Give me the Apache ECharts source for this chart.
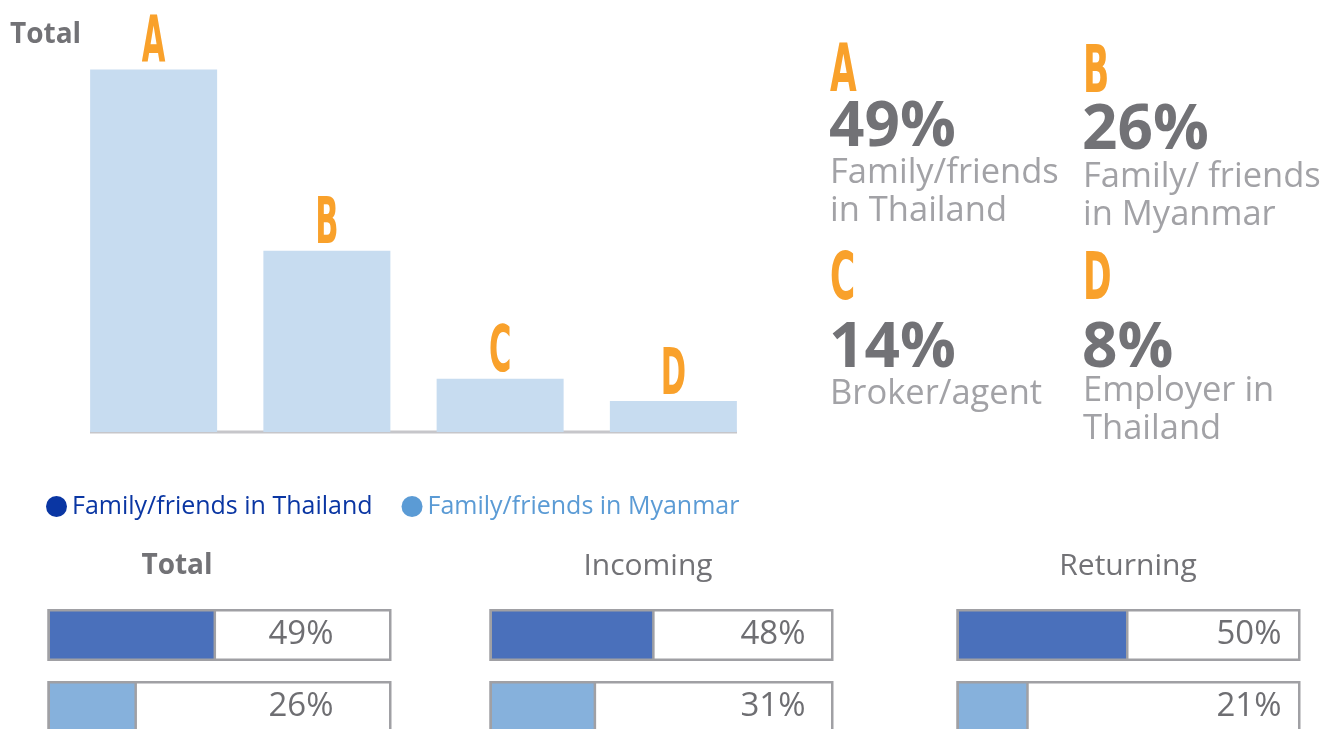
<!DOCTYPE html>
<html>
<head>
<meta charset="utf-8">
<script src="https://cdn.jsdelivr.net/npm/echarts@6/dist/echarts.min.js"></script>
<style>
  html, body { margin: 0; padding: 0; background: #fff; }
  #main { width: 1327px; height: 729px; }
</style>
</head>
<body>
<div id="main"></div>
<script>
// bar chart (top left)
var barLetters = ['A', 'B', 'C', 'D'];
var barHeights = [49, 24.5, 7.2, 4.2];

// key figures (top right)
var sharePct = [49, 26, 14, 8];
var shareText = ['Family/friends\nin Thailand', 'Family/ friends\nin Myanmar', 'Broker/agent', 'Employer in\nThailand'];

// progress bars (bottom)
var groupNames = ['Total', 'Incoming', 'Returning'];
var thailandPct = [49, 48, 50];
var myanmarPct = [26, 31, 21];
var seriesNames = ['Family/friends in Thailand', 'Family/friends in Myanmar'];

var orange = '#f9a12b';
var grey = '#727276';
var lightGrey = '#a2a2a6';
var letterFont = 'DejaVu Sans Condensed, DejaVu Sans, sans-serif';
var textFont = 'Open Sans, Noto Sans, sans-serif';

var chart = echarts.init(document.getElementById('main'));

var grids = [{ left: 67, width: 693, top: 62, height: 370 }];
var xAxes = [{
    type: 'category', gridIndex: 0, data: barLetters,
    axisLine: { show: false }, axisTick: { show: false }, axisLabel: { show: false }
}];
var yAxes = [{
    type: 'value', gridIndex: 0, min: 0, max: 50,
    show: false, splitLine: { show: false }
}];
var series = [
    {
        type: 'bar', xAxisIndex: 0, yAxisIndex: 0,
        data: barHeights, barWidth: 127,
        itemStyle: { color: '#c7dcf0' },
        silent: true
    },
    {
        type: 'custom', xAxisIndex: 0, yAxisIndex: 0,
        data: barHeights.map(function (v, i) { return [i, v]; }),
        renderItem: function (params, api) {
            var p = api.coord([api.value(0), api.value(1)]);
            return {
                type: 'text', x: p[0], y: p[1] - 24, scaleX: 0.53,
                style: {
                    text: barLetters[params.dataIndex], x: 0, y: 0,
                    align: 'center', verticalAlign: 'middle',
                    fontFamily: letterFont, fontSize: 64, fontWeight: 'bold', fill: orange
                }
            };
        }
    }
];

// one small grid per group, rows sit on the grid edges
var groupLeft = [47.5, 489.5, 956.5];
var labelDist = [58, 28, 19];
groupNames.forEach(function (g, k) {
    var idx = k + 1;
    grids.push({ left: groupLeft[k], width: 344, top: 635, height: 72 });
    xAxes.push({ type: 'value', gridIndex: idx, min: 0, max: 100, show: false });
    yAxes.push({
        type: 'category', gridIndex: idx, inverse: true, boundaryGap: false, data: ['th', 'mm'],
        axisLine: { show: false }, axisTick: { show: false }, axisLabel: { show: false }
    });
    var rowVals = [thailandPct[k], myanmarPct[k]];
    series.push({
        type: 'bar', xAxisIndex: idx, yAxisIndex: idx, clip: false,
        data: [100, 100], barWidth: 52, barGap: '-100%', silent: true,
        itemStyle: { color: '#fff', borderColor: '#a0a0a4', borderWidth: 2.5 },
        label: {
            show: true, position: 'insideRight', distance: labelDist[k],
            formatter: function (p) { return rowVals[p.dataIndex] + '%'; },
            fontFamily: textFont, fontSize: 33, color: '#6e6e72'
        }
    });
    series.push({
        name: seriesNames[0], type: 'bar', xAxisIndex: idx, yAxisIndex: idx, clip: false,
        data: [thailandPct[k], '-'], barWidth: 52, barGap: '-100%', silent: true,
        itemStyle: { color: '#4a70bb', borderColor: '#a0a0a4', borderWidth: 2.5 }
    });
    series.push({
        name: seriesNames[1], type: 'bar', xAxisIndex: idx, yAxisIndex: idx, clip: false,
        data: ['-', myanmarPct[k]], barWidth: 52, barGap: '-100%', silent: true,
        itemStyle: { color: '#86b1dc', borderColor: '#a0a0a4', borderWidth: 2.5 }
    });
});

// texts
var graphics = [
    { type: 'line', shape: { x1: 90, y1: 432, x2: 737, y2: 432 }, style: { stroke: '#c6c6ca', lineWidth: 3 } },
    { type: 'text', x: 10, y: 35, style: { text: 'Total', fontFamily: textFont, fontWeight: 'bold', fontSize: 28, fill: grey, verticalAlign: 'middle' } }
];
var blockX = [830, 1083, 830, 1083];
var letterY = [74, 75, 282, 282];
var pctY = [128, 131, 349, 349];
var descY = [154, 158, 375, 372];
sharePct.forEach(function (v, i) {
    graphics.push({
        type: 'text', x: blockX[i], y: letterY[i], scaleX: 0.58,
        style: { text: barLetters[i], x: 0, y: 0, fontFamily: letterFont, fontWeight: 'bold', fontSize: 66, fill: orange, verticalAlign: 'middle' }
    });
    graphics.push({
        type: 'text', x: blockX[i] - 1, y: pctY[i],
        style: { text: v + '%', fontFamily: textFont, fontWeight: 'bold', fontSize: 62, fill: grey, verticalAlign: 'middle' }
    });
    graphics.push({
        type: 'text', x: blockX[i], y: descY[i],
        style: { text: shareText[i], fontFamily: textFont, fontSize: 34.5, lineHeight: 38, fill: lightGrey, verticalAlign: 'top' }
    });
});
var titleX = [177, 648, 1128];
groupNames.forEach(function (g, k) {
    graphics.push({
        type: 'text', x: titleX[k], y: 566,
        style: { text: g, fontFamily: textFont, fontWeight: k === 0 ? 'bold' : 'normal', fontSize: k === 0 ? 28 : 30, fill: grey, align: 'center', verticalAlign: 'middle' }
    });
});

var option = {
    animation: false,
    legend: {
        left: 46, top: 494, padding: 0, itemGap: 29,
        itemWidth: 21, itemHeight: 21, icon: 'circle',
        selectedMode: false,
        textStyle: { fontFamily: textFont, fontSize: 25 },
        data: [
            { name: seriesNames[0], itemStyle: { color: '#0a36a3', borderWidth: 0 }, textStyle: { color: '#0a36a3' } },
            { name: seriesNames[1], itemStyle: { color: '#5b9bd5', borderWidth: 0 }, textStyle: { color: '#5b9bd5' } }
        ]
    },
    grid: grids,
    xAxis: xAxes,
    yAxis: yAxes,
    series: series,
    graphic: graphics
};
chart.setOption(option);
</script>
</body>
</html>
